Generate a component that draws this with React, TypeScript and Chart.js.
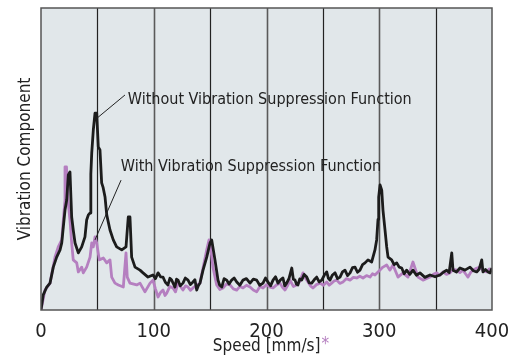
import React, { useEffect, useRef } from "react";
import { Chart, registerables } from "chart.js";

Chart.register(...registerables);

const withoutX = [0, 2.0, 5.1, 8.0, 10.9, 13.9, 16.9, 18.4, 19.8, 21.3, 22.8, 24.2, 25.7, 27.2, 28.6, 30.2, 33.1, 36.1, 39.0, 40.5, 42.0, 43.5, 44.2, 45.0, 46.4, 47.9, 49.4, 50.8, 52.3, 53.8, 55.0, 56.8, 58.3, 61.2, 64.1, 67.1, 71.6, 75.4, 77.4, 78.9, 80.4, 83.4, 87.8, 90.5, 94.9, 99.3, 101.5, 103.8, 106.0, 108.2, 110.3, 112.6, 114.3, 115.9, 117.5, 118.8, 120.2, 121.5, 123.5, 125.9, 128.0, 130.4, 132.5, 134.8, 136.5, 138.1, 139.5, 141.0, 143.7, 147.0, 149.9, 151.4, 154.3, 157.0, 158.5, 160.3, 162.4, 164.7, 166.8, 169.1, 171.3, 173.6, 176.4, 179.2, 182.2, 185.4, 188.3, 191.3, 194.0, 196.9, 199.1, 201.3, 203.6, 205.8, 208.0, 210.2, 212.4, 214.6, 216.2, 217.9, 220.0, 222.4, 223.8, 225.3, 226.6, 227.9, 229.5, 231.2, 233.4, 235.7, 237.9, 240.1, 242.3, 244.5, 246.7, 249.0, 251.2, 253.4, 254.9, 256.3, 258.5, 260.8, 263.0, 265.2, 267.4, 269.6, 271.9, 274.1, 276.3, 278.5, 280.7, 282.9, 285.2, 287.4, 290.0, 293.3, 296.2, 297.7, 298.9, 299.5, 300.7, 302.2, 303.3, 305.1, 306.6, 307.8, 311.0, 313.2, 315.5, 317.7, 319.9, 322.1, 324.3, 327.1, 329.9, 333.0, 336.1, 340.5, 345.0, 349.5, 353.9, 356.9, 359.8, 362.0, 364.3, 365.4, 368.5, 371.6, 376.0, 380.5, 383.5, 386.4, 388.6, 390.9, 392.0, 394.2, 396.5, 398.3, 400];
const withoutY = [0, 5.0, 7.6, 8.9, 14.2, 17.5, 19.9, 22.2, 27.5, 33.1, 36.4, 44.7, 45.7, 30.8, 26.5, 22.2, 18.9, 20.9, 24.2, 29.8, 31.5, 32.1, 45.0, 52.0, 59.6, 65.2, 65.2, 54.0, 53.0, 42.1, 40.7, 37.4, 31.5, 26.5, 23.2, 20.9, 19.9, 20.9, 30.8, 30.8, 17.5, 14.2, 13.2, 12.3, 10.9, 11.6, 10.4, 12.3, 11.0, 10.9, 9.2, 8.3, 10.5, 9.9, 8.6, 7.6, 10.2, 9.9, 8.0, 8.9, 10.6, 9.9, 8.4, 9.3, 10.0, 6.6, 8.0, 8.9, 13.2, 17.5, 22.2, 23.2, 16.6, 9.9, 8.2, 7.6, 10.4, 9.9, 8.6, 9.9, 10.6, 9.3, 8.2, 9.9, 10.4, 8.9, 10.2, 9.9, 8.2, 8.9, 10.6, 9.3, 8.0, 9.9, 11.0, 8.9, 10.0, 10.6, 8.0, 8.9, 10.5, 13.9, 10.2, 9.9, 8.5, 8.3, 10.3, 9.9, 11.8, 10.9, 9.0, 8.9, 10.0, 10.9, 9.3, 9.9, 11.5, 12.6, 10.5, 9.9, 11.6, 12.3, 10.4, 10.9, 12.6, 13.2, 11.4, 12.3, 14.0, 14.2, 12.5, 13.2, 15.0, 15.6, 16.6, 15.9, 19.9, 23.2, 30.0, 37.4, 41.4, 39.7, 33.1, 26.5, 20.9, 17.5, 16.6, 15.0, 15.6, 14.2, 13.9, 12.0, 13.2, 11.8, 13.2, 11.5, 12.3, 10.8, 11.6, 11.0, 11.6, 12.5, 13.2, 12.4, 18.9, 13.2, 12.6, 13.9, 13.2, 14.2, 13.0, 12.6, 13.5, 16.6, 12.6, 13.4, 12.6, 12.3, 13.9];

const withX = [0, 1.8, 3.5, 8.0, 12.4, 15.3, 18.4, 19.8, 21.3, 21.3, 22.6, 23.9, 25.7, 27.2, 28.6, 31.7, 33.1, 36.1, 37.5, 40.5, 43.5, 45.0, 46.4, 47.9, 49.4, 51.7, 55.3, 58.3, 61.2, 62.7, 65.6, 68.6, 73.0, 75.4, 76.5, 78.9, 84.9, 87.8, 92.2, 96.7, 99.3, 101.5, 103.8, 106.0, 108.2, 110.0, 111.5, 114.3, 117.1, 119.3, 121.5, 123.7, 125.9, 128.2, 130.4, 132.6, 134.8, 137.9, 141.0, 143.7, 147.0, 149.0, 149.9, 152.5, 155.8, 158.6, 161.4, 164.5, 167.6, 170.6, 173.6, 176.4, 179.2, 182.3, 185.4, 188.3, 191.3, 194.1, 196.9, 200.0, 203.1, 205.8, 208.9, 212.0, 214.2, 216.4, 218.6, 220.8, 223.8, 226.8, 229.6, 232.4, 234.6, 236.8, 239.0, 241.2, 244.3, 247.5, 250.4, 253.4, 255.6, 257.8, 260.0, 262.3, 265.0, 267.8, 271.0, 274.1, 277.0, 280.0, 282.8, 285.6, 288.7, 291.8, 294.0, 296.2, 298.9, 303.3, 306.6, 309.5, 312.2, 316.6, 321.1, 325.5, 329.9, 334.4, 338.8, 345.0, 348.0, 350.9, 353.7, 356.5, 359.6, 362.7, 365.7, 368.7, 371.5, 374.3, 376.5, 378.7, 381.0, 383.1, 386.2, 389.4, 392.3, 395.3, 397.6, 400];
const withY = [0, 3.3, 6.6, 8.9, 17.5, 20.9, 23.2, 29.8, 36.4, 47.4, 47.4, 36.4, 29.8, 22.2, 16.6, 15.6, 12.6, 14.2, 12.3, 14.2, 17.5, 22.2, 20.9, 24.2, 22.2, 16.6, 17.2, 15.6, 16.6, 10.9, 8.9, 8.3, 7.6, 18.9, 10.9, 8.9, 8.3, 8.9, 6.0, 8.9, 9.9, 7.0, 4.3, 5.8, 6.6, 4.8, 5.6, 7.8, 7.3, 6.0, 8.9, 7.8, 6.6, 8.0, 7.6, 6.5, 7.3, 8.2, 8.9, 13.9, 19.9, 23.2, 22.5, 14.2, 8.3, 6.8, 7.3, 8.6, 8.3, 7.0, 6.6, 7.8, 7.3, 8.2, 7.6, 6.6, 6.0, 7.8, 7.3, 8.4, 7.6, 7.3, 8.3, 8.9, 7.5, 6.6, 8.0, 9.9, 7.8, 8.3, 9.5, 12.3, 10.5, 9.3, 8.0, 7.3, 8.4, 8.9, 8.2, 9.3, 8.2, 8.9, 9.6, 9.9, 8.8, 9.3, 10.4, 9.9, 10.8, 10.6, 11.2, 10.6, 11.4, 10.9, 12.0, 11.6, 12.6, 14.2, 14.9, 13.2, 14.9, 10.9, 12.3, 10.9, 15.9, 10.9, 9.9, 10.9, 11.8, 12.3, 11.5, 12.6, 11.8, 12.3, 13.5, 13.2, 12.4, 13.2, 12.0, 10.9, 12.4, 13.2, 13.8, 14.2, 13.0, 12.6, 13.6, 13.2];

const xTicks = [0, 100, 200, 300, 400];
const gridValues = [50, 100, 150, 200, 250, 300, 350];

const labelWithout = "Without Vibration Suppression Function";
const labelWith = "With Vibration Suppression Function";
// annotation anchors in data units: [pointX, pointY, lineEndX, lineEndY, textX, textY]
const annWithout = [49.6, 63.5, 74.5, 71.2, 77.0, 69.6];
const annWith = [47.9, 23.2, 71.0, 43.0, 70.8, 47.5];

const FONT = "'Liberation Sans Narrow', 'DejaVu Sans Condensed', 'Arial Narrow', sans-serif";
const BLACK = "#1c1c1c";
const PURPLE = "#b57fc0";

const toPts = (xs: number[], ys: number[]) => xs.map((x, i) => ({ x, y: ys[i] }));

export default function App() {
  const ref = useRef<HTMLCanvasElement | null>(null);
  useEffect(() => {
    document.body.style.margin = "0";
    const canvas = ref.current!;
    const overlay = {
      id: "overlay",
      beforeDraw(chart: any) {
        const { ctx, chartArea: a } = chart;
        ctx.save();
        ctx.fillStyle = "#e1e7ea";
        ctx.fillRect(a.left, a.top, a.right - a.left, a.bottom - a.top);
        const xs = chart.scales.x;
        gridValues.forEach((v) => {
          const px = Math.round(xs.getPixelForValue(v)) + 0.5;
          ctx.beginPath();
          ctx.strokeStyle = v % 100 === 0 ? "#5a5a5a" : "#222";
          ctx.lineWidth = v % 100 === 0 ? 1.6 : 1.2;
          ctx.moveTo(px, a.top);
          ctx.lineTo(px, a.bottom);
          ctx.stroke();
        });
        ctx.restore();
      },
      afterDraw(chart: any) {
        const { ctx, chartArea: a } = chart;
        const xs = chart.scales.x;
        const ys = chart.scales.y;
        ctx.save();
        ctx.strokeStyle = "#555";
        ctx.lineWidth = 1.5;
        ctx.strokeRect(a.left, a.top, a.right - a.left, a.bottom - a.top);
        const drawAnn = (ann: number[], text: string) => {
          ctx.beginPath();
          ctx.strokeStyle = "#222";
          ctx.lineWidth = 1;
          ctx.moveTo(xs.getPixelForValue(ann[0]), ys.getPixelForValue(ann[1]));
          ctx.lineTo(xs.getPixelForValue(ann[2]), ys.getPixelForValue(ann[3]));
          ctx.stroke();
          ctx.font = `16px ${FONT}`;
          ctx.fillStyle = "#222";
          ctx.textAlign = "left";
          ctx.textBaseline = "middle";
          ctx.fillText(text, xs.getPixelForValue(ann[4]), ys.getPixelForValue(ann[5]));
        };
        drawAnn(annWithout, labelWithout);
        drawAnn(annWith, labelWith);
        ctx.font = `17px ${FONT}`;
        ctx.textBaseline = "alphabetic";
        const t1 = "Speed [mm/s]";
        const t2 = "*";
        const w1 = ctx.measureText(t1).width;
        const w2 = ctx.measureText(t2).width;
        const cx = (a.left + a.right) / 2 + 4;
        const sx = cx - (w1 + w2) / 2;
        ctx.fillStyle = "#222";
        ctx.textAlign = "left";
        ctx.fillText(t1, sx, 351);
        ctx.fillStyle = PURPLE;
        ctx.fillText(t2, sx + w1 + 1, 349);
        ctx.translate(30, (a.top + a.bottom) / 2);
        ctx.rotate(-Math.PI / 2);
        ctx.font = `17px ${FONT}`;
        ctx.fillStyle = "#222";
        ctx.textAlign = "center";
        ctx.textBaseline = "alphabetic";
        ctx.fillText("Vibration Component", 0, 0);
        ctx.restore();
      },
    };
    const chart = new Chart(canvas, {
      type: "line",
      data: {
        datasets: [
          {
            label: labelWithout,
            data: toPts(withoutX, withoutY),
            borderColor: BLACK,
            borderWidth: 2.8,
            pointRadius: 0,
            tension: 0,
            borderJoinStyle: "round",
          },
          {
            label: labelWith,
            data: toPts(withX, withY),
            borderColor: PURPLE,
            borderWidth: 2.8,
            pointRadius: 0,
            tension: 0,
            borderJoinStyle: "round",
          },
        ],
      },
      options: {
        animation: false,
        responsive: false,
        layout: { padding: { top: 8, right: 24, left: 0, bottom: 0 } },
        plugins: { legend: { display: false }, tooltip: { enabled: false } },
        scales: {
          x: {
            type: "linear",
            min: 0,
            max: 400,
            grid: { display: false },
            border: { display: false },
            afterFit: (s: any) => {
              s.height = 46;
            },
            afterBuildTicks: (s: any) => {
              s.ticks = xTicks.map((v) => ({ value: v }));
            },
            ticks: {
              color: "#222",
              font: { family: FONT, size: 20 },
              padding: 2,
              maxRotation: 0,
            },
          },
          y: {
            min: 0,
            max: 100,
            grid: { display: false },
            border: { display: false },
            ticks: { display: false },
            afterFit: (s: any) => {
              s.width = 41;
            },
          },
        },
      },
      plugins: [overlay],
    } as any);
    return () => chart.destroy();
  }, []);
  return <canvas ref={ref} width={516} height={356} style={{ display: "block" }} />;
}
